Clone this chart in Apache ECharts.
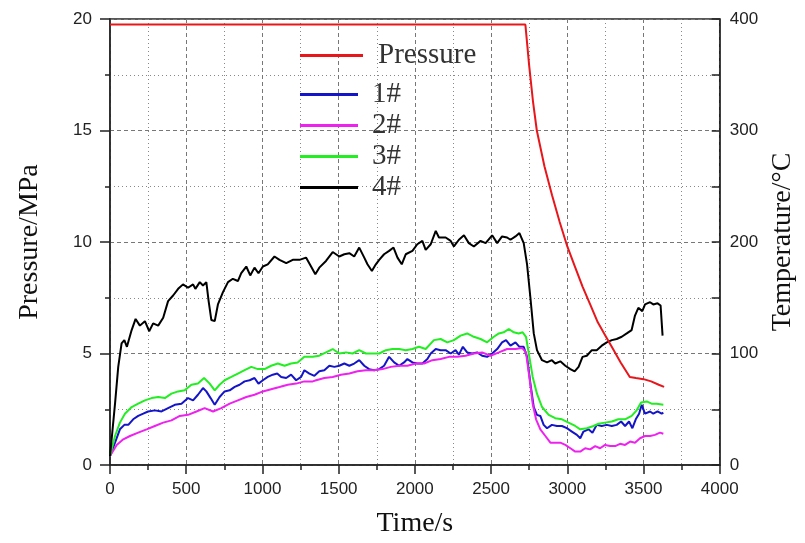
<!DOCTYPE html>
<html>
<head>
<meta charset="utf-8">
<script src="https://cdn.jsdelivr.net/npm/echarts@6/dist/echarts.min.js"></script>
<style>
  html, body { margin: 0; padding: 0; background: #fff; }
  #chart { width: 805px; height: 543px; }
</style>
</head>
<body>
<div id="chart"></div>
<script>
// pressure, MPa (left axis), [time s, value]
let pressure = [[0, 19.75], [2725, 19.75], [2750, 17.9], [2775, 16.3], [2800, 15.0], [2850, 13.4],
  [2900, 12.1], [2950, 10.9], [3000, 9.8], [3050, 8.9], [3100, 8.0], [3150, 7.2], [3200, 6.4],
  [3250, 5.8], [3300, 5.2], [3350, 4.6], [3410, 3.95], [3450, 3.9], [3500, 3.85], [3550, 3.75],
  [3600, 3.6], [3635, 3.5]]

// temperatures, °C (right axis)
let temp1 = [[0, 8], [33, 20], [65, 32], [94, 36], [120, 36], [152, 41], [185, 44], [218, 46], [250, 48],
  [294, 49], [338, 48], [381, 51], [425, 54], [469, 55], [512, 60], [545, 58], [577, 63], [610, 69],
  [632, 66], [660, 60], [687, 54], [719, 61], [752, 66], [785, 67], [818, 70], [850, 72], [883, 75],
  [916, 76], [948, 78], [974, 73], [1003, 76], [1035, 79], [1068, 81], [1097, 82], [1123, 79],
  [1156, 78], [1188, 81], [1221, 76], [1254, 79], [1275, 85], [1308, 82], [1341, 80], [1373, 84],
  [1406, 85], [1439, 89], [1472, 88], [1504, 89], [1537, 91], [1570, 89], [1602, 91], [1635, 94],
  [1668, 89], [1700, 86], [1733, 85], [1766, 86], [1798, 89], [1831, 97], [1864, 92], [1897, 89],
  [1929, 92], [1951, 95], [1984, 92], [2016, 91], [2049, 91], [2082, 95], [2104, 100], [2137, 104],
  [2169, 103], [2202, 103], [2235, 100], [2267, 103], [2289, 99], [2315, 106], [2343, 101],
  [2376, 100], [2409, 101], [2441, 98], [2474, 97], [2507, 100], [2540, 104], [2572, 110],
  [2598, 112], [2627, 107], [2660, 110], [2686, 106], [2714, 106], [2736, 97], [2758, 73],
  [2780, 52], [2801, 45], [2823, 44], [2845, 36], [2867, 33], [2899, 36], [2932, 35], [2965, 35],
  [2997, 33], [3030, 30], [3063, 27], [3085, 24], [3106, 30], [3139, 32], [3165, 29], [3193, 36],
  [3226, 35], [3259, 36], [3292, 35], [3324, 36], [3353, 39], [3379, 35], [3405, 39], [3427, 33],
  [3449, 41], [3471, 46], [3488, 54], [3510, 46], [3543, 48], [3564, 46], [3592, 48], [3619, 46],
  [3630, 47]]

let temp2 = [[0, 8], [44, 18], [87, 23], [131, 26], [185, 29], [240, 32], [294, 35], [349, 38],
  [403, 40], [458, 44], [512, 45], [567, 48], [621, 51], [676, 48], [730, 51], [785, 55], [839, 58],
  [894, 61], [948, 63], [1003, 66], [1057, 68], [1112, 70], [1166, 72], [1221, 73], [1275, 75],
  [1330, 75], [1352, 76], [1406, 78], [1461, 79], [1515, 81], [1570, 82], [1624, 84], [1679, 85],
  [1733, 85], [1788, 86], [1842, 88], [1897, 89], [1951, 89], [2006, 91], [2060, 91], [2115, 94],
  [2169, 95], [2224, 97], [2278, 97], [2333, 98], [2387, 100], [2441, 101], [2496, 98], [2551, 101],
  [2605, 104], [2660, 104], [2703, 105], [2729, 101], [2751, 79], [2773, 55], [2795, 41], [2823, 32],
  [2856, 26], [2889, 20], [2921, 20], [2954, 20], [2987, 18], [3020, 15], [3052, 12], [3085, 12],
  [3117, 15], [3150, 14], [3183, 17], [3215, 15], [3248, 18], [3281, 17], [3314, 17], [3346, 19],
  [3379, 18], [3412, 21], [3444, 20], [3477, 24], [3510, 26], [3543, 26], [3575, 27], [3608, 29],
  [3630, 28]]

let temp3 = [[0, 8], [33, 26], [65, 38], [98, 46], [142, 52], [185, 55], [229, 58], [273, 60],
  [316, 61], [360, 60], [403, 64], [447, 66], [490, 67], [534, 72], [577, 73], [617, 78], [654, 73],
  [687, 67], [719, 72], [752, 76], [796, 79], [839, 82], [883, 85], [927, 88], [970, 86], [1014, 86],
  [1057, 89], [1101, 91], [1145, 89], [1188, 91], [1231, 92], [1275, 97], [1330, 97], [1373, 98],
  [1417, 101], [1461, 104], [1504, 100], [1548, 101], [1591, 100], [1635, 103], [1679, 100],
  [1722, 100], [1766, 100], [1810, 103], [1853, 104], [1897, 104], [1940, 103], [1984, 104],
  [2027, 106], [2071, 104], [2125, 112], [2169, 113], [2213, 110], [2256, 112], [2300, 116],
  [2343, 118], [2387, 115], [2431, 113], [2474, 110], [2518, 115], [2551, 118], [2583, 119],
  [2616, 122], [2649, 119], [2681, 118], [2707, 119], [2729, 115], [2751, 97], [2773, 79],
  [2801, 64], [2834, 52], [2878, 45], [2921, 42], [2965, 41], [3008, 38], [3052, 35], [3085, 32],
  [3128, 33], [3172, 35], [3205, 37], [3248, 38], [3292, 39], [3335, 41], [3379, 41], [3422, 44],
  [3455, 49], [3484, 56], [3521, 57], [3553, 55], [3586, 55], [3630, 54]]

let temp4 = [[0, 8], [10, 22], [33, 55], [54, 88], [76, 109], [94, 112], [111, 106], [142, 121],
  [168, 131], [196, 125], [229, 129], [257, 120], [283, 127], [316, 125], [349, 132], [381, 147],
  [414, 152], [447, 158], [479, 162], [512, 159], [545, 162], [560, 158], [589, 164], [610, 161],
  [632, 164], [647, 147], [665, 130], [687, 129], [708, 144], [741, 155], [774, 164], [806, 167],
  [839, 165], [861, 172], [894, 178], [920, 170], [948, 177], [974, 172], [1003, 178], [1035, 180],
  [1079, 187], [1112, 184], [1156, 181], [1199, 184], [1243, 184], [1286, 186], [1319, 178],
  [1347, 171], [1373, 177], [1417, 183], [1461, 191], [1504, 187], [1537, 189], [1570, 190],
  [1602, 187], [1635, 195], [1668, 186], [1689, 180], [1718, 174], [1744, 180], [1766, 184],
  [1798, 189], [1831, 192], [1860, 195], [1886, 186], [1914, 180], [1940, 189], [1984, 192],
  [2016, 198], [2049, 201], [2071, 193], [2104, 198], [2137, 210], [2158, 204], [2202, 204],
  [2235, 201], [2256, 196], [2289, 202], [2322, 206], [2354, 199], [2387, 196], [2431, 201],
  [2464, 199], [2507, 206], [2540, 199], [2572, 205], [2605, 204], [2627, 202], [2660, 205],
  [2686, 208], [2714, 199], [2736, 180], [2758, 150], [2780, 118], [2801, 103], [2834, 94],
  [2867, 92], [2899, 94], [2921, 91], [2954, 93], [2987, 89], [3020, 86], [3048, 84], [3074, 88],
  [3100, 97], [3128, 98], [3161, 103], [3193, 103], [3226, 107], [3259, 110], [3292, 112],
  [3324, 113], [3357, 115], [3390, 118], [3422, 121], [3444, 134], [3466, 141], [3492, 138],
  [3510, 144], [3543, 146], [3564, 144], [3592, 145], [3612, 143], [3625, 116]]

let seriesNames = ['Pressure', '1#', '2#', '3#', '4#']
let seriesColors = ['#e8161b', '#1414c8', '#ee22ee', '#22ee22', '#000000']
let seriesData = [pressure, temp1, temp2, temp3, temp4]

let tickFont = { fontFamily: 'Liberation Sans', fontSize: 17, color: '#222' }
let nameFont = { fontFamily: 'Liberation Serif', fontSize: 28, color: '#111' }
let axisLine = { lineStyle: { color: '#222', width: 1.5 } }
let majorGrid = { show: true, lineStyle: { color: '#777', type: [4, 3], width: 1 } }
let minorGrid = { show: true, lineStyle: { color: '#888', type: [1, 3], width: 1 } }

function plainNumber(v) {
  return String(v)
}

function legendText(pad) {
  return { fontFamily: 'Liberation Serif', fontSize: 29, color: '#333', lineHeight: 31, padding: [0, 0, 0, pad] }
}

let chart = echarts.init(document.getElementById('chart'))

let option = {
  animation: false,
  backgroundColor: '#fff',
  grid: {
    left: 110, right: 83, top: 19, bottom: 74,
    show: true, borderColor: '#222', borderWidth: 1.5
  },
  legend: [
    {
      data: ['Pressure'],
      orient: 'vertical', left: 300, top: 40, padding: 0,
      icon: 'rect', itemWidth: 63, itemHeight: 3, itemGap: 0,
      textStyle: legendText(10)
    },
    {
      data: ['1#', '2#', '3#', '4#'],
      orient: 'vertical', left: 300, top: 79, padding: 0,
      icon: 'rect', itemWidth: 58, itemHeight: 3, itemGap: 0,
      textStyle: legendText(9)
    }
  ],
  xAxis: {
    type: 'value', min: 0, max: 4000, interval: 500,
    name: 'Time/s', nameLocation: 'middle', nameGap: 45, nameTextStyle: nameFont,
    axisLine: axisLine,
    axisTick: { show: true, length: 9, lineStyle: { color: '#222', width: 1.5 } },
    minorTick: { show: true, splitNumber: 2, length: 5, lineStyle: { color: '#222', width: 1.5 } },
    axisLabel: Object.assign({ margin: 16, formatter: plainNumber }, tickFont),
    splitLine: majorGrid,
    minorSplitLine: minorGrid
  },
  yAxis: [
    {
      type: 'value', min: 0, max: 20, interval: 5, position: 'left',
      name: 'Pressure/MPa', nameLocation: 'middle', nameGap: 66,
      nameTextStyle: Object.assign({ padding: [0, 0, 0, 0] }, nameFont),
      axisLine: Object.assign({ show: true }, axisLine),
      axisTick: { show: true, length: 10, lineStyle: { color: '#222', width: 1.5 } },
      minorTick: { show: true, splitNumber: 2, length: 5, lineStyle: { color: '#222', width: 1.5 } },
      axisLabel: Object.assign({ margin: 18, formatter: plainNumber }, tickFont),
      splitLine: majorGrid,
      minorSplitLine: minorGrid
    },
    {
      type: 'value', min: 0, max: 400, interval: 100, position: 'right',
      name: 'Temperature/°C', nameLocation: 'middle', nameGap: 46, nameTextStyle: nameFont,
      axisLine: Object.assign({ show: true }, axisLine),
      axisTick: { show: true, inside: true, length: 8, lineStyle: { color: '#222', width: 1.5 } },
      minorTick: { show: true, splitNumber: 2, length: 8, lineStyle: { color: '#222', width: 1.5 } },
      axisLabel: Object.assign({ margin: 10, formatter: plainNumber }, tickFont),
      splitLine: { show: false }
    }
  ],
  series: seriesNames.map(function (name, i) {
    return {
      name: name,
      type: 'line',
      yAxisIndex: i === 0 ? 0 : 1,
      data: seriesData[i],
      showSymbol: false,
      symbol: 'none',
      color: seriesColors[i],
      lineStyle: { color: seriesColors[i], width: 2 },
      z: i === 0 ? 3 : 2
    }
  })
}

chart.setOption(option)
</script>
</body>
</html>
